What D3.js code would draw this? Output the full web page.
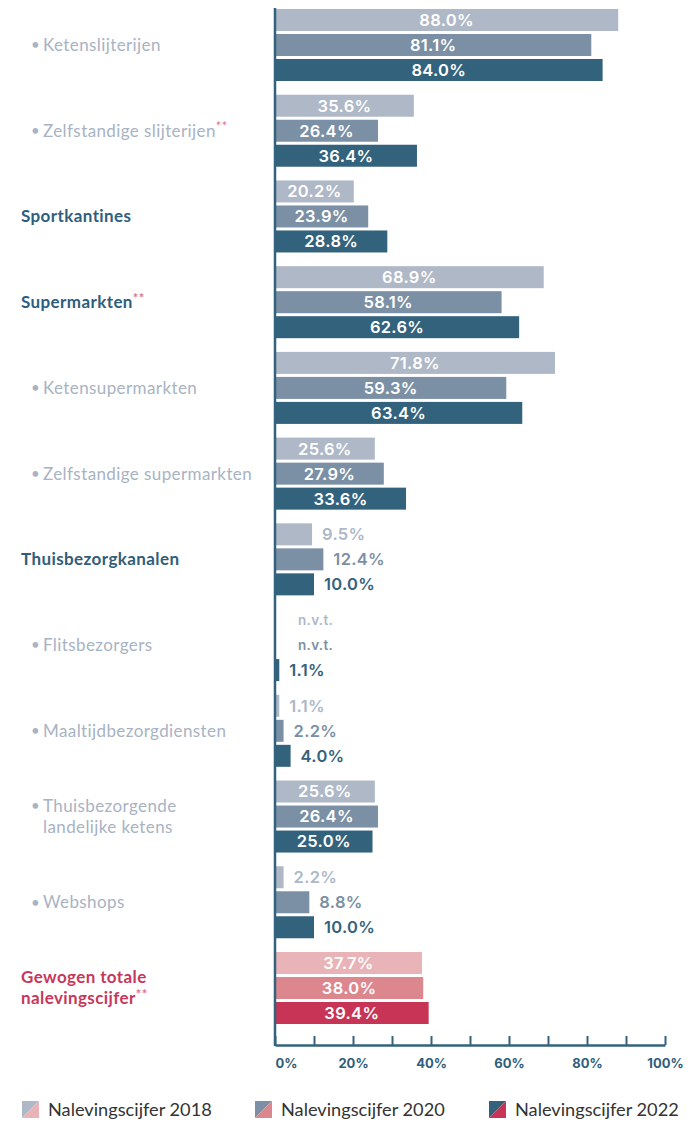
<!DOCTYPE html>
<html>
<head>
<meta charset="utf-8">
<script src="https://cdn.jsdelivr.net/npm/d3@7"></script>
<style>
  html, body { margin: 0; padding: 0; background: #fff; }
  svg { display: block; }
</style>
</head>
<body>
<svg id="chart" width="695" height="1122"></svg>
<script>
// Naleving per verkoopkanaal, 2018 / 2020 / 2022
const categories = [
  "Ketenslijterijen",
  "Zelfstandige slijterijen",
  "Sportkantines",
  "Supermarkten",
  "Ketensupermarkten",
  "Zelfstandige supermarkten",
  "Thuisbezorgkanalen",
  "Flitsbezorgers",
  "Maaltijdbezorgdiensten",
  "Thuisbezorgende landelijke ketens",
  "Webshops",
  "Gewogen totale nalevingscijfer"
];
// label lines for categories that wrap
const labelLines = [
  ["Ketenslijterijen"],
  ["Zelfstandige slijterijen"],
  ["Sportkantines"],
  ["Supermarkten"],
  ["Ketensupermarkten"],
  ["Zelfstandige supermarkten"],
  ["Thuisbezorgkanalen"],
  ["Flitsbezorgers"],
  ["Maaltijdbezorgdiensten"],
  ["Thuisbezorgende", "landelijke ketens"],
  ["Webshops"],
  ["Gewogen totale", "nalevingscijfer"]
];
const levels = ["sub", "sub", "main", "main", "sub", "sub", "main", "sub", "sub", "sub", "sub", "total"];
const footnoted = [false, true, false, true, false, false, false, false, false, false, false, true];

const series = ["Nalevingscijfer 2018", "Nalevingscijfer 2020", "Nalevingscijfer 2022"];
const values2018 = [88.0, 35.6, 20.2, 68.9, 71.8, 25.6, 9.5, null, 1.1, 25.6, 2.2, 37.7];
const values2020 = [81.1, 26.4, 23.9, 58.1, 59.3, 27.9, 12.4, null, 2.2, 26.4, 8.8, 38.0];
const values2022 = [84.0, 36.4, 28.8, 62.6, 63.4, 33.6, 10.0, 1.1, 4.0, 25.0, 10.0, 39.4];
const seriesValues = [values2018, values2020, values2022];

const tickValues = [0, 10, 20, 30, 40, 50, 60, 70, 80, 90, 100];
const tickLabels = ["0%", "", "20%", "", "40%", "", "60%", "", "80%", "", "100%"];
const missingLabel = "n.v.t.";

// palettes
const blueColors = ["#aeb8c7", "#7b90a5", "#33627d"];
const redColors = ["#e8b4b7", "#dc878e", "#c83455"];
const axisColor = "#33627d";
const subTextColor = "#a8b3c3";
const mainTextColor = "#2f5e7a";
const totalTextColor = "#c8375a";
const starColor = "#e07590";

const svg = d3.select("#chart");
const fontLabel = "Lato, 'Open Sans', sans-serif";
const fontNum = "Inter, 'Noto Sans', sans-serif";

const x = d3.scaleLinear().domain([0, 100]).range([275, 665]);

const y = d3.scaleBand()
  .domain(d3.range(categories.length))
  .range([9, 1024])
  .paddingInner(0.16)
  .paddingOuter(0);

const ySub = d3.scaleBand()
  .domain(d3.range(series.length))
  .range([0, y.bandwidth()])
  .paddingInner(0.12);

const rows = categories.map((c, i) => ({
  i, name: c, level: levels[i],
  vals: seriesValues.map((arr, s) => ({ s, v: arr[i], level: levels[i] }))
}));

const groups = svg.append("g").selectAll("g.grp")
  .data(rows)
  .join("g")
  .attr("class", "grp")
  .attr("transform", d => `translate(0,${y(d.i)})`);

const colorFor = (d) => (d.level === "total" ? redColors : blueColors)[d.s];

// bars
groups.selectAll("rect")
  .data(d => d.vals.filter(v => v.v !== null))
  .join("rect")
  .attr("x", x(0))
  .attr("y", d => ySub(d.s))
  .attr("width", d => x(d.v) - x(0))
  .attr("height", ySub.bandwidth())
  .attr("fill", d => colorFor(d));

// value labels: inside the bar (white, centred) or just past its end
const insideMin = 15;
groups.selectAll("text.val")
  .data(d => d.vals)
  .join("text")
  .attr("class", "val")
  .attr("y", d => ySub(d.s) + ySub.bandwidth() / 2)
  .attr("dy", "0.36em")
  .attr("font-family", fontNum)
  .attr("font-weight", 600)
  .attr("font-size", d => d.v === null ? 13.5 : 16.5)
  .attr("letter-spacing", 0.3)
  .each(function (d) {
    const t = d3.select(this);
    if (d.v === null) {
      t.attr("x", x(0) + 23).attr("text-anchor", "start")
        .attr("fill", colorFor(d)).text(missingLabel);
    } else if (d.v >= insideMin) {
      t.attr("x", (x(0) + x(d.v)) / 2).attr("text-anchor", "middle")
        .attr("fill", "#ffffff").text(d.v.toFixed(1) + "%");
    } else {
      t.attr("x", x(d.v) + 10).attr("text-anchor", "start")
        .attr("fill", colorFor(d)).text(d.v.toFixed(1) + "%");
    }
  });

// category labels
groups.each(function (d) {
  const g = d3.select(this);
  const lines = labelLines[d.i];
  const cy = y.bandwidth() / 2;
  const lh = 21;
  const color = d.level === "sub" ? subTextColor : (d.level === "main" ? mainTextColor : totalTextColor);
  const weight = d.level === "sub" ? 400 : 700;
  const tx = d.level === "sub" ? 43 : 21;
  if (d.level === "sub") {
    g.append("text")
      .attr("x", 31).attr("y", cy - (lines.length - 1) * lh / 2)
      .attr("dy", "0.35em")
      .attr("font-family", fontLabel).attr("font-size", 15)
      .attr("fill", color).text("•");
  }
  lines.forEach((line, k) => {
    const t = g.append("text")
      .attr("x", tx)
      .attr("y", cy + (k - (lines.length - 1) / 2) * lh)
      .attr("dy", "0.35em")
      .attr("font-family", fontLabel)
      .attr("font-size", 17)
      .attr("letter-spacing", 0.4)
      .attr("font-weight", weight)
      .attr("fill", color);
    t.append("tspan").text(line);
    if (footnoted[d.i] && k === lines.length - 1) {
      t.append("tspan")
        .attr("font-size", 13)
        .attr("dy", "-0.4em")
        .attr("fill", starColor)
        .text("**");
    }
  });
});

// vertical baseline
svg.append("line")
  .attr("x1", x(0)).attr("x2", x(0))
  .attr("y1", 8).attr("y2", 1046)
  .attr("stroke", axisColor).attr("stroke-width", 2.5);

// bottom axis with upward ticks
const axisY = 1045;
const xAxis = d3.axisBottom(x)
  .tickValues(tickValues)
  .tickSize(-9)
  .tickSizeOuter(0)
  .tickFormat((d, i) => tickLabels[i]);

const ax = svg.append("g")
  .attr("transform", `translate(0,${axisY})`)
  .call(xAxis);
ax.select(".domain").attr("stroke", axisColor).attr("stroke-width", 2.5);
ax.selectAll(".tick line").attr("stroke", axisColor).attr("stroke-width", 2);
ax.selectAll(".tick text")
  .attr("y", 14)
  .attr("dy", "0.71em")
  .attr("fill", mainTextColor)
  .attr("font-family", fontNum)
  .attr("font-weight", 700)
  .attr("font-size", 13)
  .attr("text-anchor", (d) => d === 0 ? "start" : "middle");

// legend: split swatches (blue series / total series)
const legendX = [22, 255, 489];
const legend = svg.append("g").attr("transform", "translate(0,1101)");
series.forEach((name, s) => {
  const g = legend.append("g").attr("transform", `translate(${legendX[s]},0)`);
  const sz = 17;
  g.append("path").attr("d", `M0,0 L${sz},0 L0,${sz} Z`).attr("fill", blueColors[s]);
  g.append("path").attr("d", `M${sz},0 L${sz},${sz} L0,${sz} Z`).attr("fill", redColors[s]);
  g.append("text")
    .attr("x", 26).attr("y", sz / 2)
    .attr("dy", "0.36em")
    .attr("font-family", fontLabel)
    .attr("font-size", 18.2)
    .attr("fill", "#333333")
    .text(name);
});
</script>
</body>
</html>
